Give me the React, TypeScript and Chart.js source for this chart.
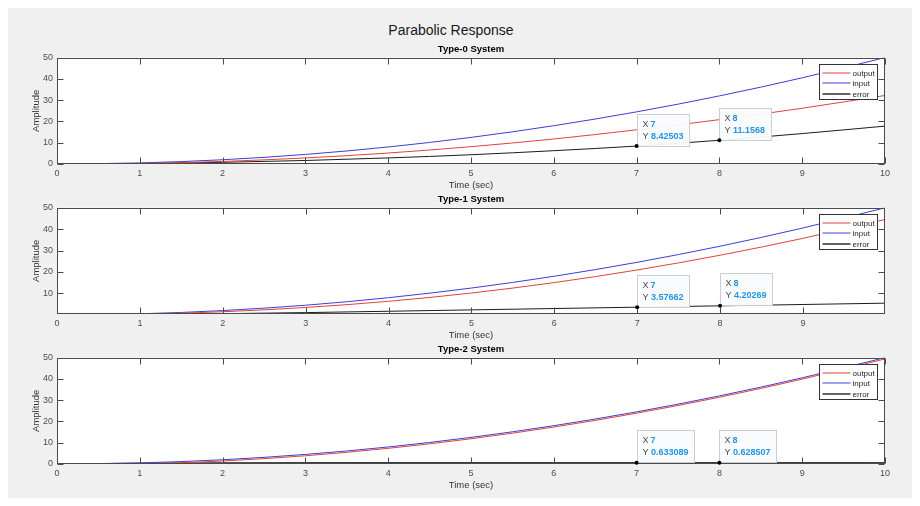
import React, { useEffect, useRef } from "react";
import { Chart, registerables } from "chart.js";

Chart.register(...registerables);

const FONT = '"Liberation Sans", Arial, Helvetica, sans-serif';

// ---- data ----
const time = [0, 1, 2, 3, 4, 5, 6, 7, 8, 9, 10];
const inputSignal = [0, 0.5, 2, 4.5, 8, 12.5, 18, 24.5, 32, 40.5, 50];

const type0Error = [0, 0.25, 0.8, 1.65, 2.85, 4.35, 6.25, 8.42503, 11.1568, 14.3, 17.8];
const type0Output = [0, 0.25, 1.2, 2.85, 5.15, 8.15, 11.75, 16.07, 20.84, 26.2, 32.2];

const type1Error = [0, 0.2, 0.55, 1.05, 1.68, 2.32, 2.95, 3.57662, 4.20269, 4.83, 5.45];
const type1Output = [0, 0.3, 1.45, 3.45, 6.32, 10.18, 15.05, 20.92, 27.8, 35.67, 44.55];

const type2Error = [0, 0.38, 0.58, 0.63, 0.645, 0.64, 0.636, 0.633089, 0.628507, 0.625, 0.622];
const type2Output = [0, 0.12, 1.42, 3.87, 7.36, 11.86, 17.36, 23.87, 31.37, 39.88, 49.38];

const tipTimes = [7, 8];
const seriesLabels = ["output", "input", "error"];
const yTicks = [0, 10, 20, 30, 40, 50];

const RED = "#e2413c";
const BLUE = "#3d3dd8";
const BLACK = "#1c1c1c";
const seriesColors = [RED, BLUE, BLACK];
const legendColors = ["#e8807c", "#7f7fe6", "#303030"];
const AXIS = "#4a4a4a";

type Sys = { title: string; output: number[]; error: number[]; yMin: number; xMax: number; top: number };

const systems: Sys[] = [
  { title: "Type-0 System", output: type0Output, error: type0Error, yMin: 0, xMax: 10, top: 32 },
  { title: "Type-1 System", output: type1Output, error: type1Error, yMin: 0.4, xMax: 9.99, top: 182 },
  { title: "Type-2 System", output: type2Output, error: type2Error, yMin: 0, xMax: 10, top: 332 },
];

const W = 904;
const H = 156;

function makeOverlay(sys: Sys) {
  return {
    id: "matlabOverlay",
    beforeDraw(chart: any) {
      const { ctx, chartArea: a } = chart;
      ctx.save();
      ctx.fillStyle = "#ffffff";
      ctx.fillRect(a.left, a.top, a.right - a.left, a.bottom - a.top);
      ctx.restore();
    },
    afterDraw(chart: any) {
      const { ctx, chartArea: a } = chart;
      const xs = chart.scales.x;
      const ys = chart.scales.y;
      const L = Math.round(a.left) + 0.5;
      const R = Math.round(a.right) - 0.5;
      const T = Math.round(a.top) + 0.5;
      const B = Math.round(a.bottom) - 0.5;
      ctx.save();
      // box
      ctx.strokeStyle = AXIS;
      ctx.lineWidth = 1;
      ctx.strokeRect(L, T, R - L, B - T);
      // inside ticks
      const tl = 6;
      ctx.beginPath();
      xs.ticks.forEach((tk: any) => {
        const px = Math.round(xs.getPixelForValue(tk.value)) + 0.5;
        ctx.moveTo(px, B);
        ctx.lineTo(px, B - tl);
        ctx.moveTo(px, T);
        ctx.lineTo(px, T + tl);
      });
      ys.ticks.forEach((tk: any) => {
        const py = Math.round(ys.getPixelForValue(tk.value)) + 0.5;
        ctx.moveTo(L, py);
        ctx.lineTo(L + tl, py);
        ctx.moveTo(R, py);
        ctx.lineTo(R - tl, py);
      });
      ctx.stroke();

      // data tips
      tipTimes.forEach((t) => {
        const idx = time.indexOf(t);
        const val = sys.error[idx];
        const px = xs.getPixelForValue(t);
        const py = ys.getPixelForValue(val);
        ctx.font = `9px ${FONT}`;
        const wY = ctx.measureText("Y ").width;
        ctx.font = `bold 9px ${FONT}`;
        const wV = ctx.measureText(String(val)).width;
        const bw = Math.round(wY + wV + 11);
        const bh = 32;
        const bx = Math.round(px) + 0.5;
        const by = Math.round(py - 0.5 - bh) + 0.5;
        ctx.fillStyle = "rgba(250,251,253,0.95)";
        ctx.fillRect(bx, by, bw, bh);
        ctx.strokeStyle = "#c9ced6";
        ctx.strokeRect(bx, by, bw, bh);
        ctx.textBaseline = "middle";
        ctx.textAlign = "left";
        ctx.font = `9px ${FONT}`;
        ctx.fillStyle = "#4a4a4a";
        ctx.fillText("X ", bx + 5, by + 10);
        ctx.fillText("Y ", bx + 5, by + 22);
        ctx.font = `bold 9px ${FONT}`;
        ctx.fillStyle = "#1f95e0";
        ctx.fillText(String(t), bx + 5 + wY - 0.5, by + 10);
        ctx.fillText(String(val), bx + 5 + wY, by + 22);
        // marker
        ctx.fillStyle = "#000";
        ctx.beginPath();
        ctx.arc(px, py, 2, 0, Math.PI * 2);
        ctx.fill();
      });

      // legend
      ctx.font = `8px ${FONT}`;
      const maxW = Math.max(...seriesLabels.map((s) => ctx.measureText(s).width));
      const lw = Math.round(33 + maxW + 3);
      const lh = 35;
      const lx = Math.round(a.right - 8 - lw) + 0.5;
      const ly = Math.round(a.top + 6) + 0.5;
      ctx.fillStyle = "#ffffff";
      ctx.fillRect(lx, ly, lw, lh);
      ctx.strokeStyle = "#333333";
      ctx.lineWidth = 1;
      ctx.strokeRect(lx, ly, lw, lh);
      seriesLabels.forEach((label, i) => {
        const ry = Math.round(ly + 8 + i * 10.5);
        ctx.strokeStyle = legendColors[i];
        ctx.lineWidth = 1.5;
        ctx.beginPath();
        ctx.moveTo(lx + 3, ry);
        ctx.lineTo(lx + 31, ry);
        ctx.stroke();
        ctx.fillStyle = "#262626";
        ctx.textBaseline = "middle";
        ctx.textAlign = "left";
        ctx.fillText(label, lx + 33, ry + 0.5);
      });
      ctx.restore();
    },
  };
}

function SubPlot({ sys }: { sys: Sys }) {
  const ref = useRef<HTMLCanvasElement | null>(null);
  useEffect(() => {
    if (!ref.current) return;
    const mk = (arr: number[]) => time.map((t, i) => ({ x: t, y: arr[i] }));
    const common = { borderWidth: 1, pointRadius: 0, cubicInterpolationMode: "monotone" as const, fill: false };
    const chart = new Chart(ref.current, {
      type: "line",
      data: {
        datasets: [
          { label: seriesLabels[0], data: mk(sys.output), borderColor: seriesColors[0], ...common },
          { label: seriesLabels[1], data: mk(inputSignal), borderColor: seriesColors[1], ...common },
          { label: seriesLabels[2], data: mk(sys.error), borderColor: seriesColors[2], ...common },
        ],
      },
      options: {
        animation: false,
        responsive: false,
        maintainAspectRatio: false,
        devicePixelRatio: 1,
        layout: { padding: { left: 0, right: 27, top: 0, bottom: 0 } },
        events: [],
        scales: {
          x: {
            type: "linear",
            min: 0,
            max: sys.xMax,
            grid: { display: false, drawTicks: false },
            border: { display: false },
            ticks: {
              stepSize: 1,
              includeBounds: false,
              autoSkip: false,
              maxRotation: 0,
              padding: 4,
              color: "#4d4d4d",
              font: { family: FONT, size: 9 },
            },
            title: {
              display: true,
              text: "Time (sec)",
              color: "#333333",
              font: { family: FONT, size: 9.5 },
              padding: { top: 0, bottom: 5 },
            },
            afterFit: (s: any) => {
              s.height = 32;
            },
          },
          y: {
            type: "linear",
            min: sys.yMin,
            max: 50,
            grid: { display: false, drawTicks: false },
            border: { display: false },
            afterBuildTicks: (s: any) => {
              s.ticks = yTicks.filter((v) => v >= sys.yMin).map((v) => ({ value: v }));
            },
            ticks: {
              padding: 4,
              color: "#4d4d4d",
              font: { family: FONT, size: 9 },
            },
            title: {
              display: true,
              text: "Amplitude",
              color: "#333333",
              font: { family: FONT, size: 9.5 },
              padding: { top: 23, bottom: 0 },
            },
            afterFit: (s: any) => {
              s.width = 49;
            },
          },
        },
        plugins: {
          legend: { display: false },
          tooltip: { enabled: false },
          title: {
            display: true,
            text: sys.title,
            fullSize: false,
            color: "#000000",
            font: { family: FONT, size: 9.5, weight: "bold" },
            padding: { top: 4, bottom: 2.2 },
          },
        },
      } as any,
      plugins: [makeOverlay(sys)],
    });
    return () => chart.destroy();
  }, [sys]);
  return (
    <canvas
      ref={ref}
      width={W}
      height={H}
      style={{ position: "absolute", left: 0, top: sys.top, width: W, height: H }}
    />
  );
}

export default function App() {
  return (
    <div
      style={{
        position: "relative",
        width: W,
        height: 490,
        background: "#f0f0f0",
        overflow: "hidden",
      }}
    >
      <div
        style={{
          position: "absolute",
          left: 0,
          width: 886,
          top: 14,
          textAlign: "center",
          font: `14px ${FONT}`,
          lineHeight: "16px",
          color: "#1a1a1a",
        }}
      >
        Parabolic Response
      </div>
      {systems.map((s) => (
        <SubPlot key={s.title} sys={s} />
      ))}
    </div>
  );
}
